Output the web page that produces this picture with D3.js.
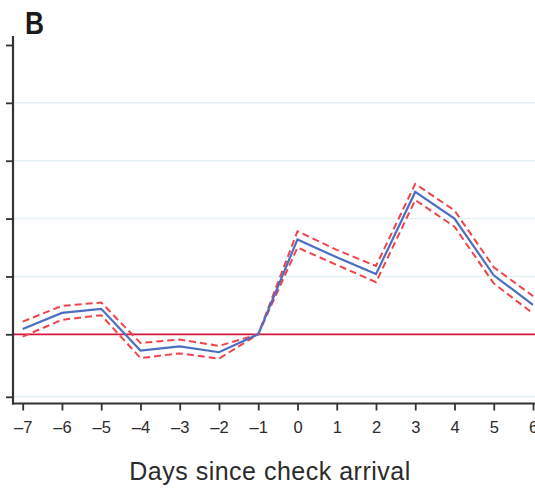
<!DOCTYPE html>
<html>
<head>
<meta charset="utf-8">
<script src="https://cdn.jsdelivr.net/npm/d3@7"></script>
<style>
  html, body { margin: 0; padding: 0; background: #fff; }
  svg { display: block; }
</style>
</head>
<body>
<svg id="chart" width="535" height="488"></svg>
<script>
// Days relative to check arrival (day -1 is the reference day)
const days = [-7, -6, -5, -4, -3, -2, -1, 0, 1, 2, 3, 4, 5, 6];
// Point estimates
const estimate = [0.09, 0.37, 0.44, -0.28, -0.21, -0.31, 0, 1.64, 1.33, 1.04, 2.46, 2.0, 1.02, 0.51];
// 95% confidence bounds
const lower = [-0.04, 0.25, 0.33, -0.41, -0.33, -0.42, 0, 1.50, 1.20, 0.90, 2.32, 1.86, 0.88, 0.36];
const upper = [0.22, 0.49, 0.55, -0.15, -0.09, -0.20, 0, 1.78, 1.46, 1.18, 2.60, 2.14, 1.16, 0.66];
// Tick positions on the vertical axis (labels not shown)
const yTicks = [-1.08, 0, 1, 2, 3, 4, 5];
const xTickLabels = days.map(d => d < 0 ? "\u2013" + Math.abs(d) : String(d));

const svg = d3.select("#chart");
const W = 535;
const axisX = 13, axisY = 403.5;

const x = d3.scaleLinear().domain([-7, 6]).range([22.7, 533]);
const y = d3.scaleLinear().domain([0, 5]).range([334.3, 45]);

// Panel letter
svg.append("text")
  .attr("x", 25).attr("y", 34)
  .attr("font-family", "Liberation Sans, Arial, sans-serif")
  .attr("font-weight", "bold")
  .attr("font-size", 31)
  .attr("textLength", 19).attr("lengthAdjust", "spacingAndGlyphs")
  .attr("fill", "#1a1a1a")
  .text("B");

// Horizontal gridlines
svg.append("g")
  .selectAll("line")
  .data(yTicks.filter(t => t !== 0 && t !== 5))
  .join("line")
  .attr("x1", axisX).attr("x2", W)
  .attr("y1", d => y(d)).attr("y2", d => y(d))
  .attr("stroke", "#e6f1f5").attr("stroke-width", 1.5);

// Zero reference line
svg.append("line")
  .attr("x1", axisX).attr("x2", W)
  .attr("y1", y(0)).attr("y2", y(0))
  .attr("stroke", "#d3173a").attr("stroke-width", 1.7);

// Y axis (ticks only)
const yAxis = d3.axisLeft(y).tickValues(yTicks).tickSize(7).tickFormat("");
const gy = svg.append("g").attr("transform", `translate(${axisX},0)`).call(yAxis);
gy.select(".domain").remove();
gy.selectAll(".tick line").attr("stroke", "#333").attr("stroke-width", 1.8);
svg.append("line")
  .attr("x1", axisX).attr("x2", axisX)
  .attr("y1", 36).attr("y2", axisY + 1)
  .attr("stroke", "#333").attr("stroke-width", 2.2);

// X axis
const xAxis = d3.axisBottom(x).tickValues(days).tickSize(7).tickPadding(11)
  .tickFormat((d, i) => xTickLabels[i]);
const gx = svg.append("g").attr("transform", `translate(0,${axisY})`).call(xAxis);
gx.select(".domain").remove();
gx.selectAll(".tick line").attr("stroke", "#333").attr("stroke-width", 1.8);
gx.selectAll(".tick text")
  .attr("font-family", "Liberation Sans, Arial, sans-serif")
  .attr("font-size", 16.5)
  .attr("fill", "#2b2b2b");
svg.append("line")
  .attr("x1", axisX - 1).attr("x2", W)
  .attr("y1", axisY).attr("y2", axisY)
  .attr("stroke", "#333").attr("stroke-width", 2.2);

// Axis title
svg.append("text")
  .attr("x", 270).attr("y", 479.5)
  .attr("text-anchor", "middle")
  .attr("font-family", "Liberation Sans, Arial, sans-serif")
  .attr("font-size", 25)
  .attr("letter-spacing", 0.5)
  .attr("fill", "#2b2b2b")
  .text("Days since check arrival");

// Confidence bounds (dashed) and estimate
const line = d3.line().x((d, i) => x(days[i])).y(d => y(d));

[lower, upper].forEach(series => {
  svg.append("path")
    .datum(series)
    .attr("d", line)
    .attr("fill", "none")
    .attr("stroke", "#f0434b")
    .attr("stroke-width", 2)
    .attr("stroke-dasharray", "7,4");
});

svg.append("path")
  .datum(estimate)
  .attr("d", line)
  .attr("fill", "none")
  .attr("stroke", "#4a6fc2")
  .attr("stroke-width", 2.2);
</script>
</body>
</html>
